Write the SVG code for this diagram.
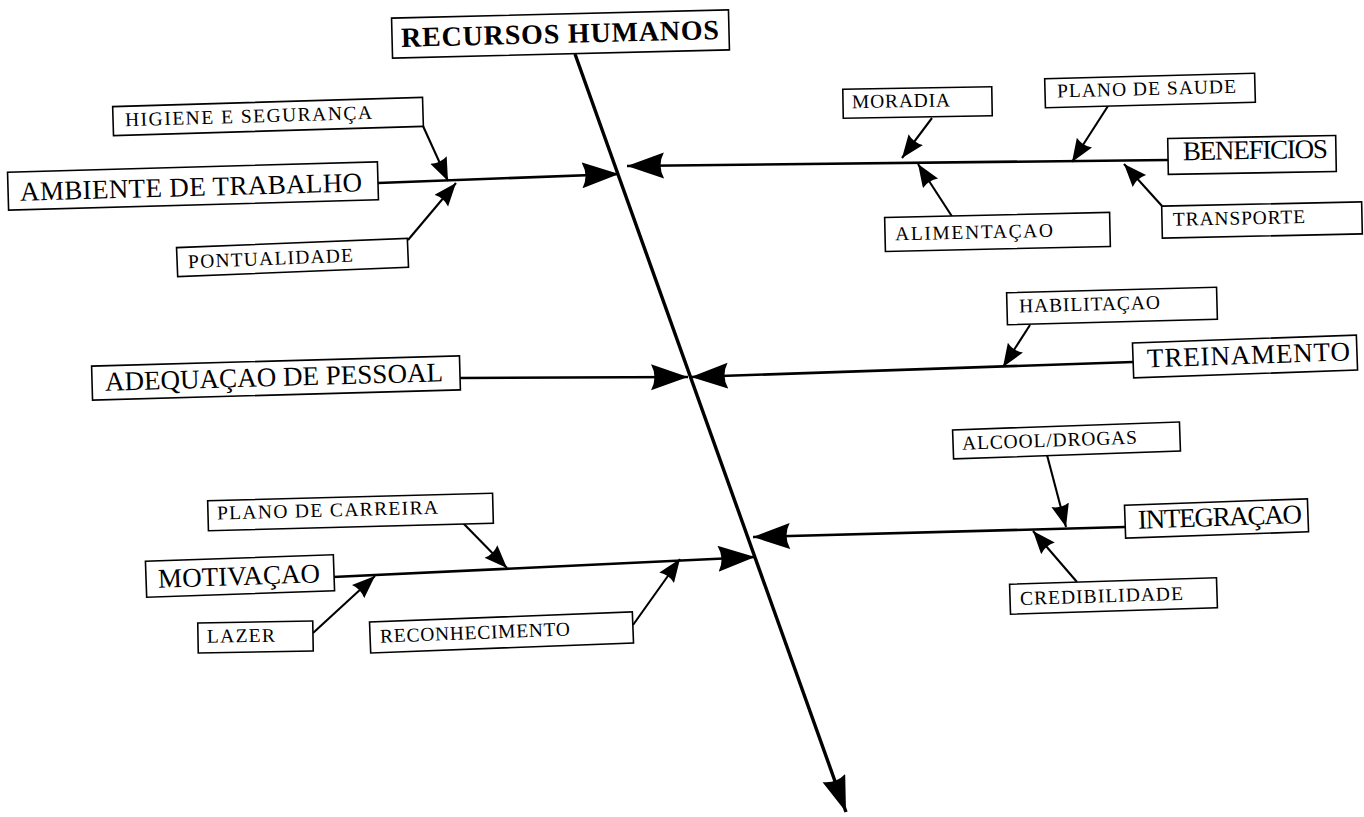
<svg xmlns="http://www.w3.org/2000/svg" width="1364" height="817" viewBox="0 0 1364 817">
<defs>
<style>
.box{fill:#fff;stroke:#000;stroke-width:1.6}
.lbl{font-family:"Liberation Serif","Times New Roman",serif;fill:#000}
.main{font-size:27px}
.sub{font-size:19.5px}
.title{font-size:28px;font-weight:bold}
.spine{stroke:#000;stroke-width:3.4;fill:none}
.rib{stroke:#000;stroke-width:2.6;fill:none}
.twig{stroke:#000;stroke-width:2.1;fill:none}
</style>
<marker id="big" markerUnits="userSpaceOnUse" viewBox="0 0 40 30" markerWidth="40" markerHeight="30" refX="37" refY="13" orient="auto">
<path d="M0,0 L37,13 L0,26 Q7,13 0,0 z" fill="#000"/>
</marker>
<marker id="tip" markerUnits="userSpaceOnUse" viewBox="0 0 40 30" markerWidth="40" markerHeight="30" refX="36" refY="12" orient="auto">
<path d="M0,0 L36,12 L0,24 Q6,12 0,0 z" fill="#000"/>
</marker>
<marker id="small" markerUnits="userSpaceOnUse" viewBox="0 0 26 22" markerWidth="26" markerHeight="22" refX="23" refY="9" orient="auto">
<path d="M0,0 L23,9 L0,18 Q4,9 0,0 z" fill="#000"/>
</marker>
</defs>
<rect width="1364" height="817" fill="#fff"/>

<g id="connectors">
<line class="spine" x1="575" y1="54" x2="846" y2="812" marker-end="url(#tip)"/>
<line class="rib" x1="378" y1="183" x2="619" y2="174" marker-end="url(#big)"/>
<line class="rib" x1="1168" y1="160" x2="627" y2="166" marker-end="url(#big)"/>
<line class="rib" x1="460" y1="378" x2="688" y2="377" marker-end="url(#big)"/>
<line class="rib" x1="1133" y1="362" x2="691" y2="377" marker-end="url(#big)"/>
<line class="rib" x1="1125" y1="527" x2="753" y2="537" marker-end="url(#big)"/>
<line class="rib" x1="333" y1="577" x2="755" y2="557" marker-end="url(#big)"/>
<line class="twig" x1="423" y1="126" x2="448" y2="181" marker-end="url(#small)"/>
<line class="twig" x1="408" y1="240" x2="456" y2="183" marker-end="url(#small)"/>
<line class="twig" x1="932" y1="118" x2="902" y2="158" marker-end="url(#small)"/>
<line class="twig" x1="1108" y1="106" x2="1072" y2="162" marker-end="url(#small)"/>
<line class="twig" x1="953" y1="218" x2="918" y2="164" marker-end="url(#small)"/>
<line class="twig" x1="1162" y1="206" x2="1124" y2="164" marker-end="url(#small)"/>
<line class="twig" x1="1030" y1="325" x2="1003" y2="367" marker-end="url(#small)"/>
<line class="twig" x1="1047" y1="455" x2="1066" y2="527" marker-end="url(#small)"/>
<line class="twig" x1="1077" y1="582" x2="1033" y2="531" marker-end="url(#small)"/>
<line class="twig" x1="463" y1="523" x2="507" y2="568" marker-end="url(#small)"/>
<line class="twig" x1="313" y1="633" x2="375" y2="576" marker-end="url(#small)"/>
<line class="twig" x1="633" y1="625" x2="680" y2="559" marker-end="url(#small)"/>
</g>

<g id="recursos-humanos" transform="rotate(-1.4 560 34)">
<rect class="box" x="392" y="14" width="337" height="40"/>
<text class="lbl title" x="401" y="43" textLength="318" lengthAdjust="spacing">RECURSOS HUMANOS</text>
</g>

<g id="ambiente-de-trabalho" transform="rotate(-1.6 193 186)">
<rect class="box" x="8" y="167" width="370" height="38"/>
<text class="lbl main" x="20" y="196" textLength="342" lengthAdjust="spacing">AMBIENTE DE TRABALHO</text>
</g>

<g id="higiene-e-seguranca" transform="rotate(-1.7 268 116)">
<rect class="box" x="113" y="102" width="310" height="29"/>
<text class="lbl sub" x="125" y="122" textLength="247" lengthAdjust="spacing">HIGIENE E SEGURANÇA</text>
</g>

<g id="pontualidade" transform="rotate(-2.3 292 257)">
<rect class="box" x="177" y="243" width="231" height="29"/>
<text class="lbl sub" x="188" y="264" textLength="165" lengthAdjust="spacing">PONTUALIDADE</text>
</g>

<g id="beneficios" transform="rotate(-1 1250 155)">
<rect class="box" x="1168" y="137" width="168" height="36"/>
<text class="lbl main" x="1183" y="159" textLength="145" lengthAdjust="spacing">BENEFICIOS</text>
</g>

<g id="moradia" transform="rotate(-1 917 102)">
<rect class="box" x="843" y="88" width="149" height="29"/>
<text class="lbl sub" x="852" y="107" textLength="98" lengthAdjust="spacing">MORADIA</text>
</g>

<g id="plano-de-saude" transform="rotate(-1.5 1150 90)">
<rect class="box" x="1045" y="76" width="210" height="29"/>
<text class="lbl sub" x="1057" y="95" textLength="179" lengthAdjust="spacing">PLANO DE SAUDE</text>
</g>

<g id="alimentacao" transform="rotate(-1.3 997 232)">
<rect class="box" x="885" y="215" width="225" height="34"/>
<text class="lbl sub" x="895" y="238" textLength="158" lengthAdjust="spacing">ALIMENTAÇAO</text>
</g>

<g id="transporte" transform="rotate(-1.2 1262 220)">
<rect class="box" x="1162" y="204" width="200" height="32"/>
<text class="lbl sub" x="1173" y="224" textLength="132" lengthAdjust="spacing">TRANSPORTE</text>
</g>

<g id="adequacao-de-pessoal" transform="rotate(-1.6 276 378)">
<rect class="box" x="92" y="361" width="368" height="34"/>
<text class="lbl main" x="105" y="386" textLength="338" lengthAdjust="spacing">ADEQUAÇAO DE PESSOAL</text>
</g>

<g id="treinamento" transform="rotate(-2 1245 356)">
<rect class="box" x="1133" y="339" width="224" height="35"/>
<text class="lbl main" x="1147" y="364" textLength="203" lengthAdjust="spacing">TREINAMENTO</text>
</g>

<g id="habilitacao" transform="rotate(-1.5 1112 306)">
<rect class="box" x="1007" y="290" width="210" height="32"/>
<text class="lbl sub" x="1019" y="310" textLength="141" lengthAdjust="spacing">HABILITAÇAO</text>
</g>

<g id="integracao" transform="rotate(-2 1216 518)">
<rect class="box" x="1125" y="502" width="183" height="33"/>
<text class="lbl main" x="1138" y="526" textLength="164" lengthAdjust="spacing">INTEGRAÇAO</text>
</g>

<g id="alcool-drogas" transform="rotate(-2 1066 440)">
<rect class="box" x="953" y="426" width="227" height="29"/>
<text class="lbl sub" x="962" y="446" textLength="175" lengthAdjust="spacing">ALCOOL/DROGAS</text>
</g>

<g id="credibilidade" transform="rotate(-1.8 1113 596)">
<rect class="box" x="1010" y="581" width="207" height="30"/>
<text class="lbl sub" x="1020" y="602" textLength="163" lengthAdjust="spacing">CREDIBILIDADE</text>
</g>

<g id="motivacao" transform="rotate(-2 240 576)">
<rect class="box" x="146" y="558" width="188" height="36"/>
<text class="lbl main" x="158" y="585" textLength="162" lengthAdjust="spacing">MOTIVAÇAO</text>
</g>

<g id="plano-de-carreira" transform="rotate(-1.5 350 512)">
<rect class="box" x="208" y="497" width="285" height="30"/>
<text class="lbl sub" x="217" y="516" textLength="221" lengthAdjust="spacing">PLANO DE CARREIRA</text>
</g>

<g id="lazer" transform="rotate(-1 255 637)">
<rect class="box" x="198" y="622" width="115" height="30"/>
<text class="lbl sub" x="207" y="642" textLength="68" lengthAdjust="spacing">LAZER</text>
</g>

<g id="reconhecimento" transform="rotate(-2.2 501 632)">
<rect class="box" x="370" y="617" width="263" height="31"/>
<text class="lbl sub" x="380" y="638" textLength="190" lengthAdjust="spacing">RECONHECIMENTO</text>
</g>
</svg>
